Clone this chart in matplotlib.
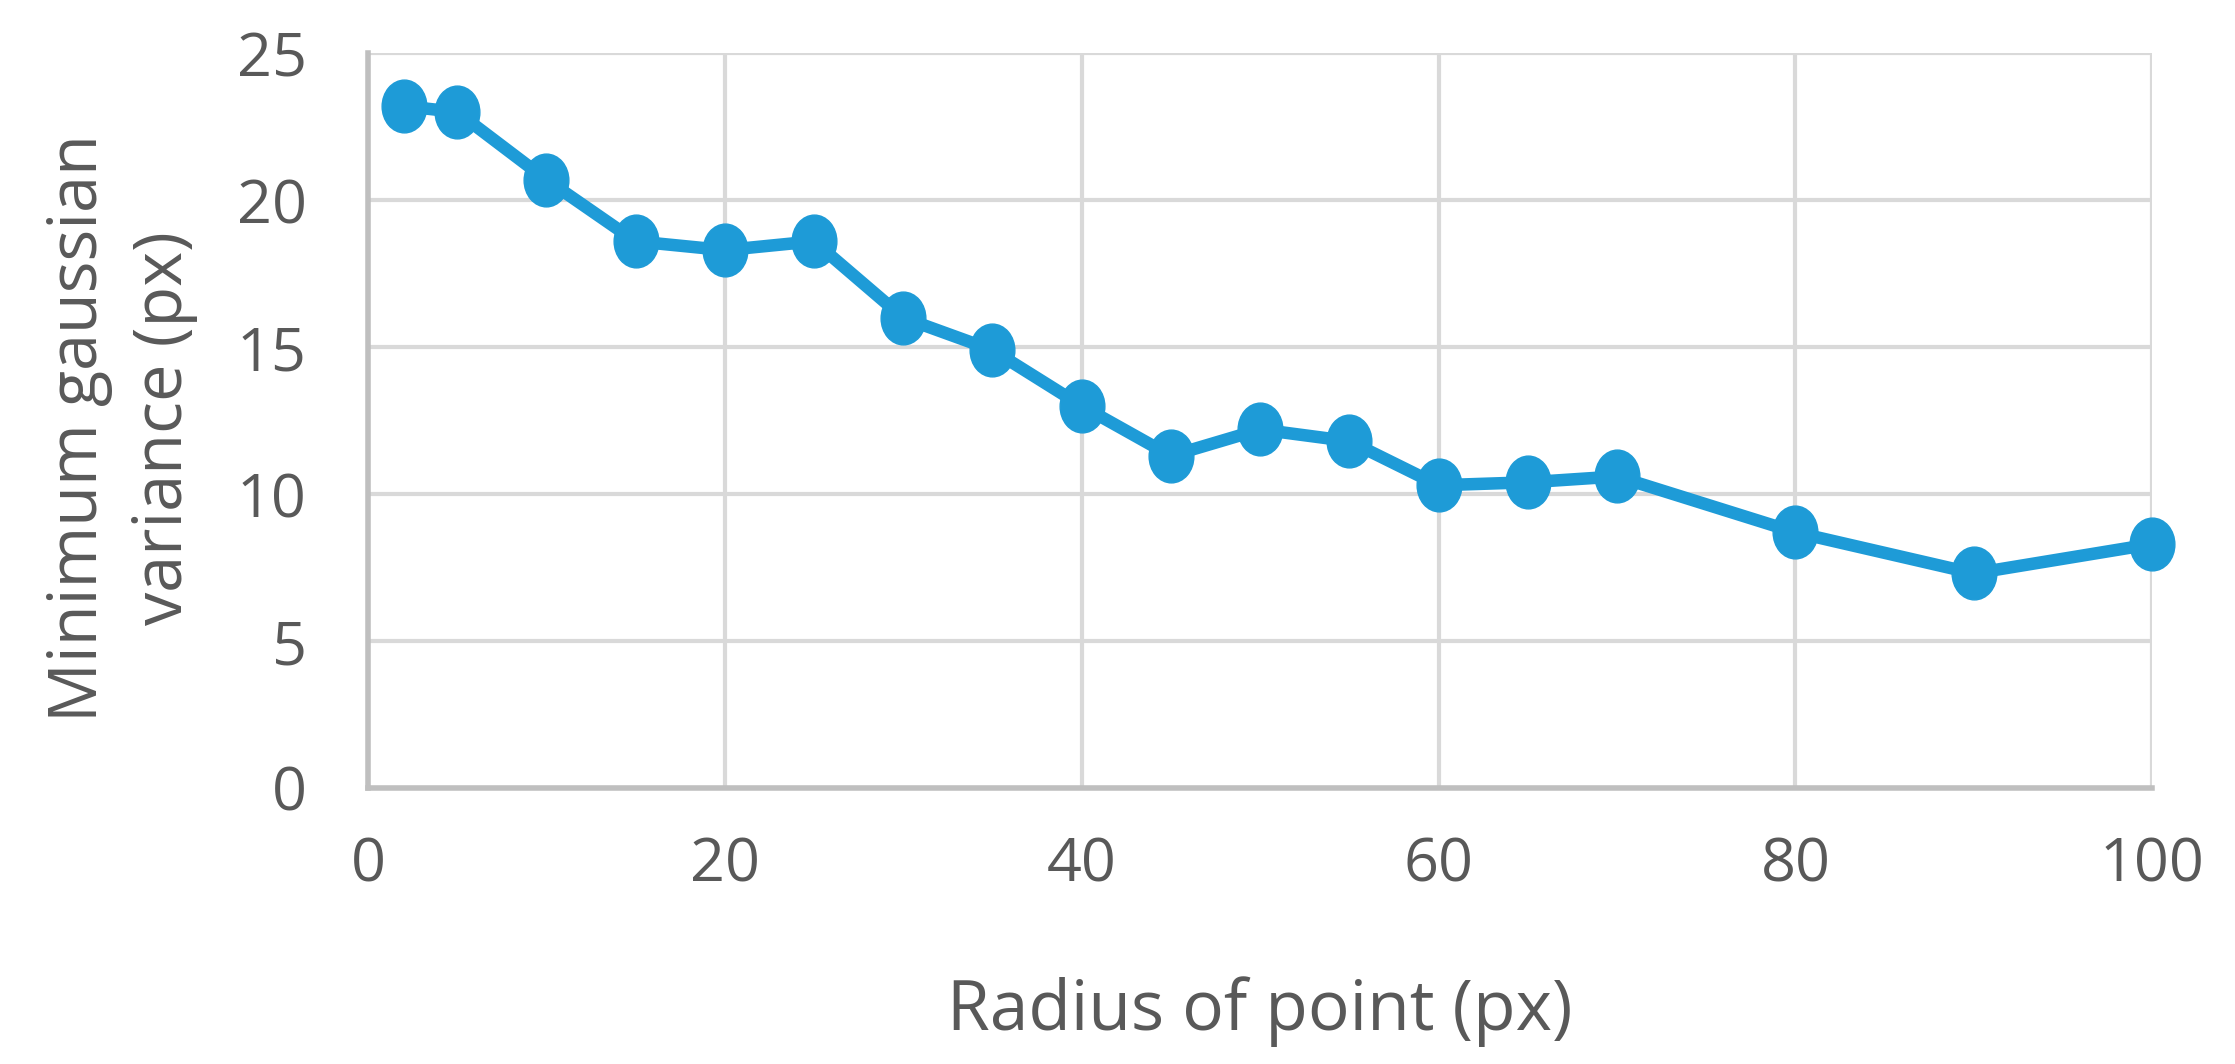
import numpy as np
import matplotlib.pyplot as plt
from matplotlib.path import Path

plt.rcParams['font.family'] = ['Open Sans', 'DejaVu Sans']

radius = [2, 5, 10, 15, 20, 25, 30, 35, 40, 45, 50, 55, 60, 65, 70, 80, 90, 100]
min_variance = [23.2, 23.0, 20.7, 18.6, 18.3, 18.6, 16.0, 14.9, 13.0, 11.3,
                12.2, 11.8, 10.3, 10.4, 10.6, 8.7, 7.3, 8.3]
x_ticks = [0, 20, 40, 60, 80, 100]
y_ticks = [0, 5, 10, 15, 20, 25]

text_color = '#595959'
line_color = '#1E9BD7'

# slightly tall ellipse marker, like the stretched original
circ = Path.unit_circle()
ellipse = Path(circ.vertices * np.array([1.0, 1.18]), circ.codes)

fig = plt.figure(figsize=(22.35, 10.64), dpi=100)
ax = fig.add_axes([0.1646, 0.2594, 0.963 - 0.1646, 0.950 - 0.2594])

ax.plot(radius, min_variance, color=line_color, linewidth=9,
        marker=ellipse, markersize=38, zorder=3, clip_on=False)

ax.set_xlim(0, 100)
ax.set_ylim(0, 25)
ax.set_xticks(x_ticks)
ax.set_yticks(y_ticks)
ax.grid(True, color='#D9D9D9', linewidth=3)
ax.set_axisbelow(True)
for side in ['top', 'right']:
    ax.spines[side].set_visible(False)
for side in ['left', 'bottom']:
    ax.spines[side].set_color('#BFBFBF')
    ax.spines[side].set_linewidth(4)
ax.tick_params(length=0, labelsize=44, labelcolor=text_color)
ax.tick_params(axis='y', pad=44)
ax.tick_params(axis='x', pad=34)

ax.set_xlabel('Radius of point (px)', fontsize=50, color=text_color, va='center')
ax.xaxis.set_label_coords(0.5, -0.305)
ax.set_ylabel('Minimum gaussian\nvariance (px)', fontsize=48, color=text_color,
              linespacing=1.35, va='center')
ax.yaxis.set_label_coords(-0.138, 0.49)

fig.savefig('out.png', dpi=100)
